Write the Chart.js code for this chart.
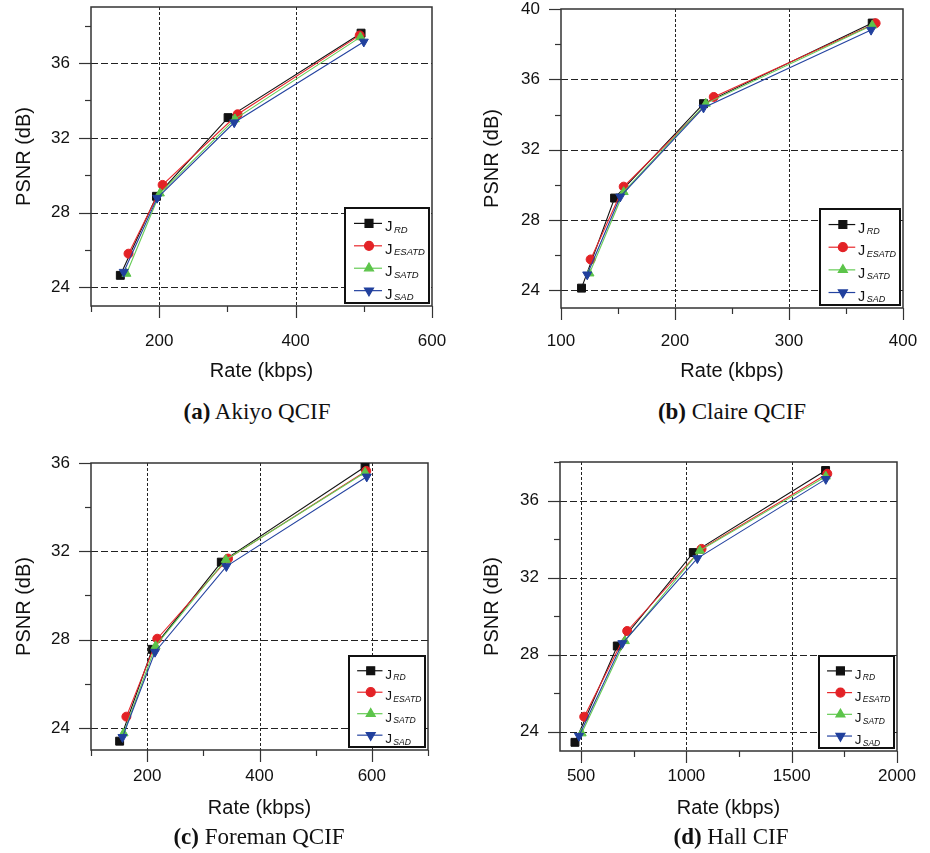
<!DOCTYPE html>
<html>
<head>
<meta charset="utf-8">
<script src="https://cdn.jsdelivr.net/npm/chart.js@4.4.1/dist/chart.umd.min.js"></script>
<style>
    body { margin: 0; background: #fff; width: 930px; height: 853px; position: relative; overflow: hidden; }
    canvas { position: absolute; }
    .cap { position: absolute; transform: translate(-50%, -50%); white-space: nowrap; color: #111;
           font-family: "Liberation Serif", "Times New Roman", serif; font-size: 23px; }
</style>
</head>
<body>
<canvas id="graphA" width="465" height="390" style="left:0;top:0"></canvas>
<canvas id="graphB" width="465" height="390" style="left:465px;top:0"></canvas>
<canvas id="graphC" width="465" height="413" style="left:0;top:440px"></canvas>
<canvas id="graphD" width="465" height="413" style="left:465px;top:440px"></canvas>
<div class="cap" style="left:257px;top:412px"><b>(a)</b> Akiyo QCIF</div>
<div class="cap" style="left:732px;top:412px"><b>(b)</b> Claire QCIF</div>
<div class="cap" style="left:259px;top:837px"><b>(c)</b> Foreman QCIF</div>
<div class="cap" style="left:731px;top:837px"><b>(d)</b> Hall CIF</div>
<script>
// series order: J_RD, J_ESATD, J_SATD, J_SAD
const seriesNames = ['RD', 'ESATD', 'SATD', 'SAD'];

const akiyoRate = [[143, 196, 301, 496], [155, 205, 315, 494], [152, 201, 311, 495], [148, 197, 310, 500]];
const akiyoPsnr = [[24.64, 28.87, 33.08, 37.6], [25.8, 29.48, 33.26, 37.48], [24.73, 29.03, 33.0, 37.39], [24.82, 28.78, 32.82, 37.14]];

const claireRate = [[118, 147, 225, 373], [126, 155, 234, 376], [125, 155, 227, 373], [123, 152, 225, 372]];
const clairePsnr = [[24.13, 29.25, 34.62, 39.2], [25.76, 29.9, 35.0, 39.19], [24.97, 29.6, 34.62, 39.07], [24.9, 29.33, 34.39, 38.81]];

const foremanRate = [[151, 209, 332, 588], [163, 218, 344, 590], [158, 215, 340, 588], [156, 214, 341, 591]];
const foremanPsnr = [[23.4, 27.56, 31.51, 35.83], [24.51, 28.04, 31.67, 35.64], [23.76, 27.71, 31.62, 35.57], [23.58, 27.44, 31.32, 35.38]];

const hallRate = [[471, 672, 1033, 1661], [515, 719, 1072, 1669], [503, 708, 1064, 1662], [490, 696, 1052, 1662]];
const hallPsnr = [[23.45, 28.45, 33.3, 37.56], [24.78, 29.23, 33.49, 37.39], [23.92, 28.71, 33.4, 37.25], [23.78, 28.59, 33.0, 37.11]];

// tick values
const akiyoXMajor = [200, 400, 600], akiyoXMinor = [100, 300, 500];
const akiyoYMajor = [24, 28, 32, 36], akiyoYMinor = [26, 30, 34, 38];
const claireXMajor = [100, 200, 300, 400], claireXMinor = [150, 250, 350];
const claireYMajor = [24, 28, 32, 36, 40], claireYMinor = [26, 30, 34, 38];
const foremanXMajor = [200, 400, 600], foremanXMinor = [100, 300, 500, 700];
const foremanYMajor = [24, 28, 32, 36], foremanYMinor = [26, 30, 34];
const hallXMajor = [500, 1000, 1500, 2000], hallXMinor = [750, 1250, 1750];
const hallYMajor = [24, 28, 32, 36], hallYMinor = [26, 30, 34, 38];

const lineColors = ['#111111', '#e8272b', '#66cc55', '#2443a0'];
const markColors = ['#111111', '#e32226', '#5cc44a', '#21409d'];
const markStyles = ['rect', 'circle', 'triangle', 'triangle'];
const markRotation = [0, 0, 0, 180];
const markRadius = [5.6, 4.5, 5.2, 5.2];

const SANS = '"Liberation Sans", Arial, Helvetica, sans-serif';

function strokeLine(ctx, x1, y1, x2, y2) {
    ctx.beginPath();
    ctx.moveTo(x1, y1);
    ctx.lineTo(x2, y2);
    ctx.stroke();
}

// dashed grid, frame box and outward tick marks
const framePlugin = {
    id: 'frame',
    beforeDatasetsDraw(chart, args, opts) {
        const { ctx, chartArea: a, scales: { x, y } } = chart;
        ctx.save();
        ctx.strokeStyle = '#222';
        ctx.lineWidth = 1;

        ctx.setLineDash([3, 2]);
        opts.xMajor.forEach(v => {
            if (v <= x.min || v >= x.max) return;
            const px = Math.round(x.getPixelForValue(v)) + 0.5;
            strokeLine(ctx, px, a.top, px, a.bottom);
        });
        ctx.setLineDash([7, 3]);
        opts.yMajor.forEach(v => {
            if (v <= y.min || v >= y.max) return;
            const py = Math.round(y.getPixelForValue(v)) + 0.5;
            strokeLine(ctx, a.left, py, a.right, py);
        });
        ctx.setLineDash([]);

        ctx.strokeStyle = '#333';
        ctx.lineWidth = 1.5;
        ctx.strokeRect(a.left, a.top, a.right - a.left, a.bottom - a.top);

        ctx.lineWidth = 1.2;
        const tick = (vals, len) => {
            vals.xs.forEach(v => {
                const px = Math.round(x.getPixelForValue(v)) + 0.5;
                strokeLine(ctx, px, a.bottom, px, a.bottom + len);
            });
            vals.ys.forEach(v => {
                const py = Math.round(y.getPixelForValue(v)) + 0.5;
                strokeLine(ctx, a.left, py, a.left - len, py);
            });
        };
        tick({ xs: opts.xMajor, ys: opts.yMajor }, 12);
        tick({ xs: opts.xMinor, ys: opts.yMinor }, 6);
        ctx.restore();
    }
};

// boxed legend with subscripted labels, bottom-right inside the plot
const legendPlugin = {
    id: 'subLegend',
    afterDatasetsDraw(chart, args, opts) {
        const { ctx, chartArea: a } = chart;
        const w = opts.width, h = opts.height, k = w / 84;
        const left = a.right - 3 - w, top = a.bottom - 3 - h;
        ctx.save();
        ctx.fillStyle = '#fff';
        ctx.fillRect(left, top, w, h);
        ctx.strokeStyle = '#111';
        ctx.lineWidth = 2;
        ctx.strokeRect(left, top, w, h);

        chart.data.datasets.forEach((ds, i) => {
            const rowY = top + h * (0.162 + i * 0.236);
            ctx.strokeStyle = ds.borderColor;
            ctx.lineWidth = 1.2;
            strokeLine(ctx, left + 9 * k, rowY, left + 37 * k, rowY);
            ctx.fillStyle = ds.pointBackgroundColor;
            ctx.strokeStyle = ds.pointBackgroundColor;
            Chart.helpers.drawPoint(ctx, {
                pointStyle: ds.pointStyle, rotation: ds.pointRotation,
                radius: ds.pointRadius, borderWidth: 1
            }, left + 24 * k, rowY);

            ctx.fillStyle = '#111';
            ctx.textAlign = 'left';
            ctx.textBaseline = 'alphabetic';
            ctx.font = (15 * k).toFixed(1) + 'px ' + SANS;
            ctx.fillText('J', left + 40 * k, rowY + 8);
            ctx.font = 'italic ' + (9.5 * k).toFixed(1) + 'px ' + SANS;
            ctx.fillText(seriesNames[i], left + 49 * k, rowY + 9.5);
        });
        ctx.restore();
    }
};

function configurePanel(canvasId, rates, psnr, axes, box) {
    const datasets = rates.map((r, i) => ({
        label: 'J' + seriesNames[i],
        data: r.map((v, k) => ({ x: v, y: psnr[i][k] })),
        borderColor: lineColors[i],
        backgroundColor: markColors[i],
        pointBackgroundColor: markColors[i],
        pointBorderColor: markColors[i],
        pointBorderWidth: 1,
        pointStyle: markStyles[i],
        pointRotation: markRotation[i],
        pointRadius: markRadius[i],
        borderWidth: 1.1,
        tension: 0,
        order: 4 - i
    }));

    new Chart(document.getElementById(canvasId), {
        type: 'line',
        data: { datasets: datasets },
        options: {
            responsive: false,
            animation: false,
            devicePixelRatio: 1,
            layout: { padding: { left: 0, top: box.padTop, right: box.padRight, bottom: 0 } },
            plugins: {
                legend: { display: false },
                tooltip: { enabled: false },
                frame: { xMajor: axes.xMajor, xMinor: axes.xMinor, yMajor: axes.yMajor, yMinor: axes.yMinor },
                subLegend: { width: box.legendW, height: box.legendH }
            },
            scales: {
                x: {
                    type: 'linear',
                    min: axes.xMin, max: axes.xMax,
                    grid: { display: false, drawTicks: false },
                    border: { display: false },
                    afterBuildTicks: s => { s.ticks = axes.xMajor.map(v => ({ value: v })); },
                    afterFit: s => { s.height = box.xHeight; s.paddingLeft = 0; s.paddingRight = 0; },
                    ticks: {
                        autoSkip: false, maxRotation: 0, padding: box.xTickPad,
                        color: '#111', font: { family: SANS, size: 17 },
                        callback: v => String(v)
                    },
                    title: {
                        display: true, text: 'Rate (kbps)', color: '#111',
                        font: { family: SANS, size: 20 }, padding: { top: 0, bottom: box.xTitlePad }
                    }
                },
                y: {
                    type: 'linear',
                    min: axes.yMin, max: axes.yMax,
                    grid: { display: false, drawTicks: false },
                    border: { display: false },
                    afterBuildTicks: s => { s.ticks = axes.yMajor.map(v => ({ value: v })); },
                    afterFit: s => { s.width = box.yWidth; s.paddingTop = 0; s.paddingBottom = 0; },
                    ticks: {
                        padding: 21, color: '#111', font: { family: SANS, size: 17 },
                        callback: v => String(v)
                    },
                    title: {
                        display: true, text: 'PSNR (dB)', color: '#111',
                        font: { family: SANS, size: 20 }, padding: { top: box.yTitlePad, bottom: 0 }
                    }
                }
            }
        },
        plugins: [framePlugin, legendPlugin]
    });
}

configurePanel('graphA', akiyoRate, akiyoPsnr,
    { xMin: 100, xMax: 600, yMin: 23, yMax: 39, xMajor: akiyoXMajor, xMinor: akiyoXMinor, yMajor: akiyoYMajor, yMinor: akiyoYMinor },
    { padTop: 7, padRight: 33, yWidth: 91, xHeight: 84, xTickPad: 25, xTitlePad: 7, yTitlePad: 12, legendW: 84, legendH: 95 });

configurePanel('graphB', claireRate, clairePsnr,
    { xMin: 100, xMax: 400, yMin: 23, yMax: 40, xMajor: claireXMajor, xMinor: claireXMinor, yMajor: claireYMajor, yMinor: claireYMinor },
    { padTop: 9, padRight: 27, yWidth: 96, xHeight: 82, xTickPad: 23, xTitlePad: 7, yTitlePad: 15, legendW: 80, legendH: 96 });

configurePanel('graphC', foremanRate, foremanPsnr,
    { xMin: 100, xMax: 700, yMin: 23, yMax: 36, xMajor: foremanXMajor, xMinor: foremanXMinor, yMajor: foremanYMajor, yMinor: foremanYMinor },
    { padTop: 23, padRight: 37, yWidth: 91, xHeight: 103, xTickPad: 16, xTitlePad: 33, yTitlePad: 12, legendW: 76, legendH: 91 });

configurePanel('graphD', hallRate, hallPsnr,
    { xMin: 400, xMax: 2000, yMin: 23, yMax: 38, xMajor: hallXMajor, xMinor: hallXMinor, yMajor: hallYMajor, yMinor: hallYMinor },
    { padTop: 22, padRight: 33, yWidth: 95, xHeight: 102, xTickPad: 15, xTitlePad: 33, yTitlePad: 15, legendW: 75, legendH: 92 });
</script>
</body>
</html>
